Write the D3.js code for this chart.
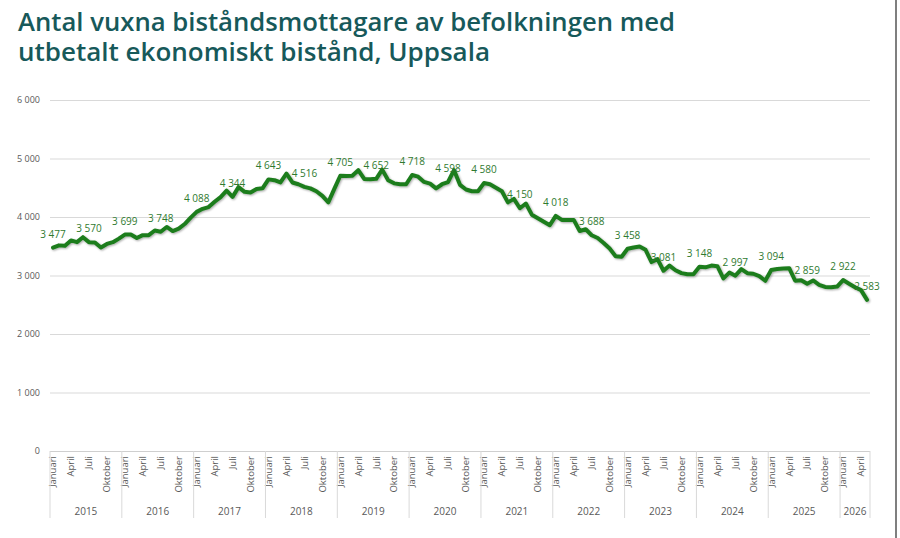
<!DOCTYPE html>
<html><head><meta charset="utf-8">
<script src="https://cdn.jsdelivr.net/npm/d3@7"></script>
<style>
body{margin:0;background:#fff;}
svg{display:block;font-family:"Open Sans",sans-serif;}
</style></head>
<body><svg id="c" width="900" height="538"></svg>
<script>
const titleLines = ["Antal vuxna biståndsmottagare av befolkningen med", "utbetalt ekonomiskt bistånd, Uppsala"];
const years = ["2015","2016","2017","2018","2019","2020","2021","2022","2023","2024","2025","2026"];
const monthNames = ["Januari","Februari","Mars","April","Maj","Juni","Juli","Augusti","September","Oktober","November","December"];
const shownMonths = ["Januari","April","Juli","Oktober"];
const yTicks = [0,1000,2000,3000,4000,5000,6000];
const v2015 = [3477,3515,3510,3600,3570,3655,3570,3565,3480,3540,3570,3630];
const v2016 = [3699,3700,3640,3690,3690,3770,3748,3830,3760,3800,3880,3990];
const v2017 = [4088,4140,4170,4260,4340,4450,4344,4510,4430,4420,4480,4490];
const v2018 = [4643,4630,4590,4740,4590,4560,4516,4490,4440,4360,4250,4480];
const v2019 = [4705,4700,4705,4800,4650,4645,4652,4810,4630,4575,4560,4560];
const v2020 = [4718,4690,4600,4570,4490,4560,4598,4800,4550,4470,4440,4440];
const v2021 = [4580,4560,4500,4440,4250,4310,4150,4230,4040,3980,3920,3860];
const v2022 = [4018,3950,3950,3950,3760,3790,3688,3640,3555,3460,3330,3320];
const v2023 = [3458,3480,3495,3440,3230,3280,3081,3170,3090,3040,3020,3020];
const v2024 = [3148,3140,3170,3160,2950,3050,2997,3110,3040,3030,2990,2910];
const v2025 = [3094,3110,3120,3125,2910,2920,2859,2915,2840,2805,2800,2810];
const v2026 = [2922,2860,2800,2750,2583];
const yearValues = [v2015,v2016,v2017,v2018,v2019,v2020,v2021,v2022,v2023,v2024,v2025,v2026];

(function(){
const data = [];
yearValues.forEach((arr, yi) => arr.forEach((v, mi) => data.push({year: years[yi], month: monthNames[mi], mi, value: v})));
data.forEach((d, i) => d.i = i);
const n = data.length;

const svg = d3.select("#c");
const pLeft = 50, pRight = 870, pTop = 100, pBottom = 451;
const x = d3.scaleLinear().domain([-0.5, n - 0.5]).range([pLeft, pRight]);
const y = d3.scaleLinear().domain([0, 6000]).range([pBottom, pTop]);
const loc = d3.formatLocale({decimal: ",", thousands: "\u00a0", grouping: [3], currency: ["", " kr"]});
const fmt = loc.format(",");

// title (one text element, two lines)
const titleWidths = [657, 472];
const tt = svg.append("text").attr("font-size", 25).attr("font-weight", 600).attr("fill", "#17595a");
titleLines.forEach((t, k) => {
  const sp = tt.append("tspan").attr("x", 18).attr("y", 31 + k * 29.5).text(t);
  const w = sp.node().getComputedTextLength();
  if (Math.abs(w - titleWidths[k]) > 4) sp.attr("textLength", titleWidths[k]).attr("lengthAdjust", "spacingAndGlyphs");
});

// gridlines and y labels
const yAxis = d3.axisLeft(y).tickValues(yTicks).tickSize(-(pRight - pLeft)).tickFormat(fmt).tickPadding(10);
const ga = svg.append("g").attr("transform", `translate(${pLeft},0)`).call(yAxis);
ga.select(".domain").remove();
ga.selectAll(".tick line").attr("stroke", "#d9d9d9").attr("stroke-width", 1);
ga.selectAll(".tick text").attr("fill", "#595959").attr("font-size", 9).attr("font-family", "Open Sans, sans-serif");
ga.selectAll(".tick").filter(d => d === 0).select("line").attr("stroke", "#cfcfcf");

// x axis month labels
const gx = svg.append("g");
gx.selectAll("text.m").data(data.filter(d => shownMonths.includes(d.month))).join("text")
  .attr("class", "m")
  .attr("transform", d => `translate(${x(d.i)},456) rotate(-90)`)
  .attr("text-anchor", "end").attr("dy", "0.35em")
  .attr("font-size", 9.5).attr("fill", "#595959")
  .text(d => d.month);

// year separators
const yearStarts = years.map(yr => data.find(d => d.year === yr).i);
const bounds = yearStarts.map(i => x(i - 0.5)).concat([x(n - 0.5)]);
gx.selectAll("line.sep").data(bounds).join("line").attr("class", "sep")
  .attr("x1", d => d).attr("x2", d => d).attr("y1", pBottom).attr("y2", 518)
  .attr("stroke", "#d9d9d9").attr("stroke-width", 1);
gx.selectAll("text.yr").data(years).join("text").attr("class", "yr")
  .attr("x", (d, k) => (bounds[k] + bounds[k + 1]) / 2).attr("y", 515)
  .attr("text-anchor", "middle").attr("font-size", 10).attr("fill", "#595959")
  .text(d => d);

// line
const defs = svg.append("defs");
const f = defs.append("filter").attr("id", "sh").attr("x", "-5%").attr("y", "-20%").attr("width", "110%").attr("height", "140%");
f.append("feGaussianBlur").attr("in", "SourceAlpha").attr("stdDeviation", 1.2).attr("result", "b");
f.append("feOffset").attr("in", "b").attr("dx", 0.5).attr("dy", 1).attr("result", "o");
f.append("feComponentTransfer").attr("in", "o").attr("result", "o2").append("feFuncA").attr("type", "linear").attr("slope", 0.35);
const fm = f.append("feMerge");
fm.append("feMergeNode").attr("in", "o2");
fm.append("feMergeNode").attr("in", "SourceGraphic");

const line = d3.line().x(d => x(d.i)).y(d => y(d.value));
svg.append("path").datum(data).attr("d", line)
  .attr("fill", "none").attr("stroke", "#1f7d1f").attr("stroke-width", 4)
  .attr("stroke-linejoin", "round").attr("stroke-linecap", "round")
  .attr("filter", "url(#sh)");

// data labels
const labeled = data.filter(d => d.mi === 0 || d.mi === 6 || d.i === n - 1);
svg.append("g").selectAll("text").data(labeled).join("text")
  .attr("x", d => x(d.i)).attr("y", d => y(d.value) - 10)
  .attr("text-anchor", "middle").attr("font-size", 10).attr("fill", "#2f7a2f")
  .text(d => fmt(d.value));

// right border
svg.append("line").attr("x1", 896).attr("x2", 896).attr("y1", 0).attr("y2", 538)
  .attr("stroke", "#555").attr("stroke-width", 1.5);
})();
</script></body></html>
